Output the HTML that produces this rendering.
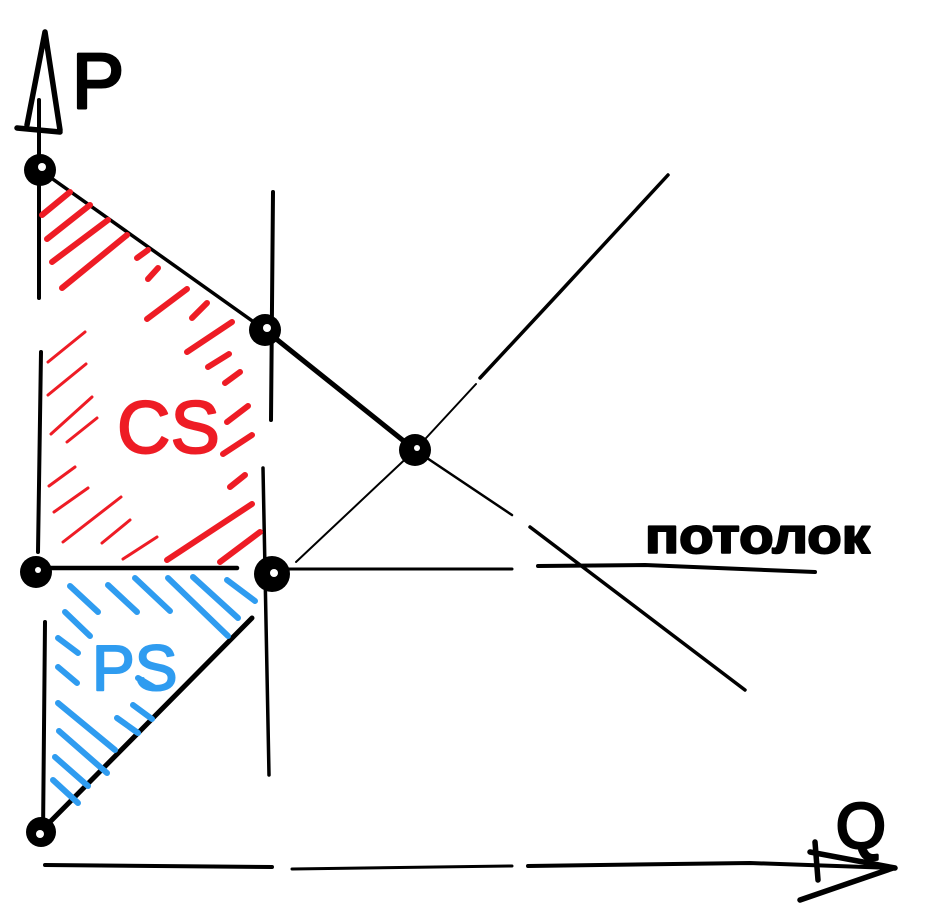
<!DOCTYPE html>
<html><head><meta charset="utf-8"><style>
html,body{margin:0;padding:0;background:#fff;width:932px;height:918px;overflow:hidden}
svg{display:block}
</style></head><body>
<svg width="932" height="918" viewBox="0 0 932 918" xmlns="http://www.w3.org/2000/svg">
<g fill="none" stroke="#000" stroke-linecap="round" stroke-linejoin="round">
  <g>
    <path d="M39,100 L39,298" stroke-width="4"/>
    <path d="M41,352 L38,552" stroke-width="4"/>
    <path d="M45,622 L43,835" stroke-width="4"/>
    <path d="M45,32 L27,125 M45,32 L60,130 M17,128 L60,132" stroke-width="5.5"/>
  </g>
  <text x="72" y="108" font-family="Liberation Sans, sans-serif" font-size="78" fill="#000" stroke="#000" stroke-width="3">P</text>
  <g>
    <path d="M45,865 L272,867" stroke-width="4"/>
    <path d="M292,869 L512,866" stroke-width="3"/>
    <path d="M528,866 L750,863 L893,868" stroke-width="4"/>
    <path d="M810,852 L895,868 M800,900 L893,868 M815,842 L818,880" stroke-width="5.5"/>
  </g>
  <text x="836" y="848" font-family="Liberation Sans, sans-serif" font-size="64" fill="#000" stroke="#000" stroke-width="3">Q</text>
  <g>
    <path d="M40,170 L265,330" stroke-width="3.5"/>
    <path d="M265,330 L415,450" stroke-width="5"/>
    <path d="M415,450 L512,515" stroke-width="2.5"/>
    <path d="M530,527 L745,690" stroke-width="3.5"/>
  </g>
  <g>
    <path d="M40,832 L252,618" stroke-width="5"/>
    <path d="M296,562 L415,450 L476,384" stroke-width="2"/>
    <path d="M480,378 L560,292 L668,175" stroke-width="3.5"/>
  </g>
  <g>
    <path d="M273,192 L271,420" stroke-width="4"/>
    <path d="M263,468 L269,775" stroke-width="3.5"/>
  </g>
  <g>
    <path d="M38,568 L237,568" stroke-width="4.5"/>
    <path d="M280,569 L512,569" stroke-width="3"/>
    <path d="M538,566 L645,565 L815,572" stroke-width="4"/>
  </g>
  <text x="645" y="553" textLength="225" lengthAdjust="spacingAndGlyphs" font-family="Liberation Sans, sans-serif" font-weight="bold" font-size="50" fill="#000" stroke="#000" stroke-width="2">потолок</text>
  <g stroke="#ee1c25">
    <path stroke-width="6" d="M42,215 L70,192 M47,239 L90,205 M52,262 L108,220 M62,288 L127,235 M137,258 L148,250 M148,279 L158,268 M147,319 L187,289 M192,318 L207,303 M187,352 L232,322 M208,367 L229,354 M225,383 L240,372 M227,422 L248,406 M223,454 L252,435 M230,487 L245,475 M167,560 L252,504 M220,562 L260,532"/>
    <path stroke-width="3" d="M48,362 L85,332 M48,395 L86,364 M51,434 L92,397 M67,442 L97,418 M49,486 L75,467 M54,512 L88,488 M63,542 L121,497 M102,543 L130,520 M123,559 L157,537"/>
  </g>
  <text x="117" y="453" font-family="Liberation Sans, sans-serif" font-size="74" fill="#ee1c25" stroke="#ee1c25" stroke-width="2">CS</text>
  <g stroke="#2f9cf0" stroke-width="6">
    <path d="M70,586 L98,612 M108,585 L137,612 M135,578 L170,611 M168,578 L228,636 M193,577 L238,618 M227,580 L255,601 M65,612 L90,636 M58,638 L78,653 M58,667 L77,683 M58,703 L115,750 M59,731 L107,773 M55,757 L88,786 M53,780 L78,803 M138,678 L155,688 M117,718 L138,733 M133,705 L152,719"/>
  </g>
  <text x="92" y="690" font-family="Liberation Sans, sans-serif" font-size="64" fill="#2f9cf0" stroke="#2f9cf0" stroke-width="2">PS</text>
  <g fill="#000" stroke="none">
    <circle cx="40" cy="170" r="16"/>
    <circle cx="265" cy="330" r="16"/>
    <circle cx="415" cy="450" r="16"/>
    <circle cx="36" cy="572" r="16"/>
    <circle cx="272" cy="574" r="18"/>
    <circle cx="41" cy="832" r="15"/>
  </g>
  <g fill="#fff" stroke="none">
    <circle cx="42" cy="167" r="4"/><circle cx="267" cy="328" r="4"/><circle cx="417" cy="448" r="3"/>
    <circle cx="38" cy="570" r="3"/><circle cx="274" cy="573" r="4"/><circle cx="40" cy="834" r="4"/>
  </g>
</g>
</svg>
</body></html>
